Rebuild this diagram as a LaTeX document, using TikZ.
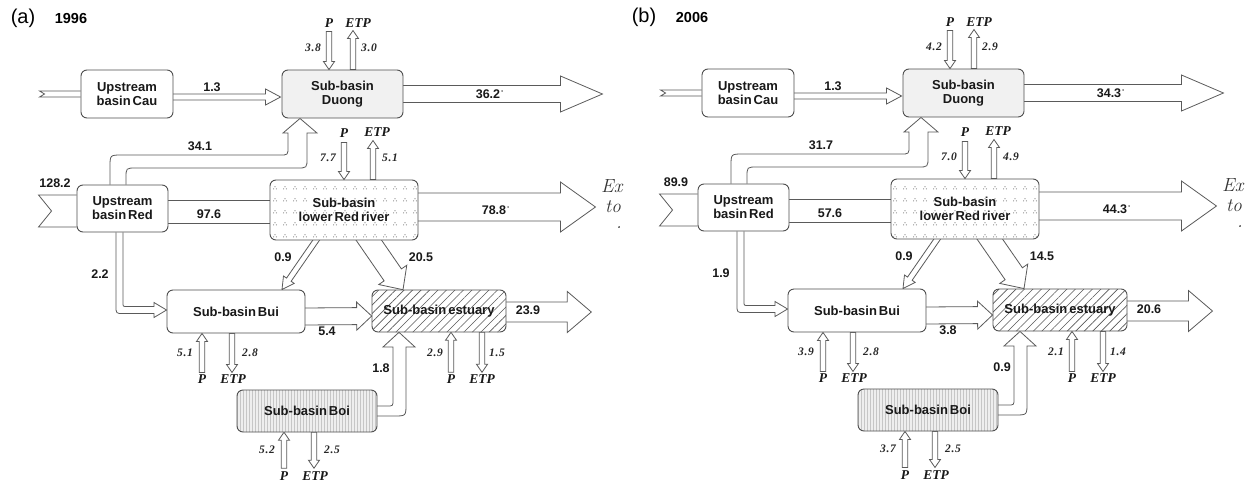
\documentclass[tikz,border=0pt]{standalone}
\usepackage{fontspec}
\newfontfamily\arialf{Liberation Sans}
\newfontfamily\timesf{Liberation Serif}
\newfontfamily\timesvf[LetterSpace=6]{Liberation Serif}
\usetikzlibrary{calc,patterns,patterns.meta}
\definecolor{boxgray}{HTML}{4E4E4E}
\definecolor{arrgray}{HTML}{5A5A5A}
\definecolor{duongfill}{HTML}{F1F1F1}
\definecolor{boifill}{HTML}{EEEEEE}
\pgfdeclarelayer{paper}
\pgfdeclarelayer{bg}
\pgfsetlayers{paper,bg,main}
\pgfdeclarepatternformonly{tridots}{\pgfpoint{-1pt}{-1pt}}{\pgfpoint{11pt}{13pt}}{\pgfpoint{10pt}{12pt}}{%
  \pgfpathcircle{\pgfpoint{5pt}{7.2pt}}{0.6pt}%
  \pgfpathcircle{\pgfpoint{3.6pt}{5.1pt}}{0.6pt}%
  \pgfpathcircle{\pgfpoint{6.4pt}{5.1pt}}{0.6pt}%
  \pgfusepath{fill}}
\newcommand\boxfont{\arialf\bfseries\fontsize{13}{14}\selectfont\spaceskip=2pt plus 1pt\relax}
\newcommand\tickmark{\rlap{\raisebox{3pt}{\fontsize{7}{7}\selectfont\,'}}}
\tikzset{
  basinbox/.style={draw=boxgray, line width=0.9pt, rounded corners=6pt, align=center,
    inner sep=0pt, font=\boxfont, text=black!90},
  arrowline/.style={draw=arrgray, fill=white, line width=0.8pt},
  numlab/.style={font=\arialf\bfseries\fontsize{12.5}{13}\selectfont, inner sep=0pt, text=black!90},
  pelab/.style={font=\timesf\bfseries\itshape\fontsize{13.5}{14}\selectfont, inner sep=0pt, text=black!90},
  vallab/.style={font=\timesvf\bfseries\itshape\fontsize{11.5}{12}\selectfont, inner sep=0pt, text=black!85},
  cutlab/.style={font=\rmfamily\itshape\fontsize{19}{19}\selectfont, inner sep=0pt, text=black!80}
}
% open-tailed hollow arrow: #1 tail, #2 tip, #3 half shaft, #4 half head, #5 head length
\newcommand\fatarrow[5]{%
  \coordinate (fah) at ($(#2)!#5!(#1)$);
  \filldraw[arrowline] ($(#1)!#3!90:(#2)$) -- ($(fah)!#3!-90:(#1)$) -- ($(fah)!#4!-90:(#1)$)
    -- (#2) -- ($(fah)!#4!90:(#1)$) -- ($(fah)!#3!90:(#1)$) -- ($(#1)!#3!-90:(#2)$);}
\newcommand\fatarrowc[5]{%
  \coordinate (fah) at ($(#2)!#5!(#1)$);
  \filldraw[arrowline] ($(#1)!#3!90:(#2)$) -- ($(fah)!#3!-90:(#1)$) -- ($(fah)!#4!-90:(#1)$)
    -- (#2) -- ($(fah)!#4!90:(#1)$) -- ($(fah)!#3!90:(#1)$) -- ($(#1)!#3!-90:(#2)$) -- cycle;}
\newcommand\panelbody{%
  % title
  \node[font=\arialf\fontsize{20}{20}\selectfont, inner sep=0pt] (ttl) at (23,18) {(\qqL)};
  \node[font=\arialf\bfseries\fontsize{14.5}{15}\selectfont, inner sep=0pt] (yr) at (71,19) {\qqY};
  % boxes
  \node[basinbox, fill=duongfill, minimum width=121, minimum height=48] (duong) at (342.5,94) {Sub-basin\\Duong};
  \node[basinbox, fill=white, minimum width=92, minimum height=48] (cau) at (127,94) {Upstream\\basin Cau};
  \node[basinbox, fill=white, minimum width=91, minimum height=47] (red) at (122.5,208.5) {Upstream\\basin Red};
  \node[basinbox, preaction={fill=white}, pattern=tridots, pattern color=black!50,
        minimum width=148, minimum height=60] (lower) at (344,210) {Sub-basin\\lower Red river};
  \node[basinbox, fill=white, minimum width=138, minimum height=43] (bui) at (236,311.5) {Sub-basin Bui};
  \node[basinbox, preaction={fill=white}, pattern={Lines[angle=45,distance=6pt,line width=0.6pt]},
        pattern color=black!65, minimum width=134, minimum height=42] (est) at (439,311) {Sub-basin estuary};
  \node[basinbox, preaction={fill=boifill}, pattern={Lines[angle=90,distance=3pt,line width=0.45pt]},
        pattern color=gray!45, minimum width=140, minimum height=42] (boi) at (307,411) {Sub-basin Boi};
  \begin{pgfonlayer}{bg}
    % Cau inflow
    \coordinate (cauin) at ($(cau.west)+(-41,0)$);
    \filldraw[arrowline] ($(cau.west)+(0,-3)$) -- ($(cauin)+(0,-3)$) -- ($(cauin)+(5,0)$)
      -- ($(cauin)+(0,3)$) -- ($(cau.west)+(0,3)$);
    % Cau -> Duong
    \coordinate (c2dt) at ($(cau.east)+(-2,3)$);
    \coordinate (c2dh) at ($(duong.west)+(-1,3)$);
    \fatarrow{c2dt}{c2dh}{3pt}{8pt}{15pt}
    % Duong outflow
    \coordinate (dot) at ($(duong.east)+(-2,0)$);
    \coordinate (doh) at ($(duong.east)+(199,0)$);
    \fatarrow{dot}{doh}{8.5pt}{18pt}{42pt}
    % Duong P / ETP
    \coordinate (dPh) at ($(duong.north)+(-13.5,0)$);
    \coordinate (dPt) at ($(dPh)+(0,-38)$);
    \fatarrowc{dPt}{dPh}{2.8pt}{5.5pt}{8pt}
    \coordinate (dEt) at ($(duong.north)+(10.5,0)$);
    \coordinate (dEh) at ($(dEt)+(0,-39)$);
    \fatarrowc{dEt}{dEh}{2.8pt}{5.5pt}{8pt}
    % Red inflow
    \coordinate (rin) at ($(red.west)+(-38,2.5)$);
    \filldraw[arrowline] ($(red.west)+(0,-13.5)$) -- ($(rin)+(0,-16)$) -- ($(rin)+(13,0)$)
      -- ($(rin)+(0,16)$) -- ($(red.west)+(0,18.5)$);
    % Red -> lower Red river
    \draw[arrowline] ($(red.east)+(0,-8.5)$) -- ($(lower.west)+(0,-10)$);
    \draw[arrowline] ($(red.east)+(0,14.5)$) -- ($(lower.west)+(0,13)$);
    % Red -> Duong
    \coordinate (r2d1) at ($(red.north)+(-12.5,0)$);
    \coordinate (r2d2) at ($(red.north)+(3.5,0)$);
    \coordinate (r2dh) at ($(duong.south)+(-42.5,0)$);
    \filldraw[arrowline] (r2d1) -- (110,167) .. controls (110,155) .. (122,155) -- (280,155)
      .. controls (288,155) .. (288,147) -- (288,133) -- (283,133) -- (r2dh) -- (317,133)
      -- (307,133) -- (307,158) .. controls (307,168) .. (297,168) -- (136,168)
      .. controls (126,168) .. (126,178) -- (r2d2);
    % Red -> Bui
    \coordinate (r2b1) at ($(red.south)+(-6.5,0)$);
    \coordinate (r2b2) at ($(red.south)+(0.5,0)$);
    \coordinate (r2bh) at ($(bui.west)+(0,-1.5)$);
    \filldraw[arrowline] (r2b1) -- (116,306) .. controls (116,313.5) .. (123,313.5) -- (154,313.5)
      -- (154,317.5) -- (r2bh) -- (154,302.5) -- (154,306.5) -- (127,306.5)
      .. controls (123,306.5) .. (123,302.5) -- (r2b2);
    % lower -> Bui
    \coordinate (l2bt) at ($(lower.south)+(-22.5,-8)$);
    \coordinate (l2bh) at ($(bui.north)+(46,0)$);
    \fatarrow{l2bt}{l2bh}{2.8pt}{6.5pt}{12pt}
    % lower -> estuary
    \coordinate (l2et) at ($(lower.south)+(19.5,-8)$);
    \coordinate (l2eh) at ($(est.north)+(-36,0)$);
    \fatarrow{l2et}{l2eh}{10.5pt}{17pt}{18pt}
    % lower outflow
    \coordinate (lot) at ($(lower.east)+(-2,-3)$);
    \coordinate (loh) at ($(lower.east)+(177,-3)$);
    \fatarrow{lot}{loh}{14pt}{25pt}{35pt}
    % lower P / ETP
    \coordinate (lPh) at (lower.north);
    \coordinate (lPt) at ($(lPh)+(0,-37)$);
    \fatarrowc{lPt}{lPh}{2.8pt}{5.5pt}{8pt}
    \coordinate (lEt) at ($(lower.north)+(29,0)$);
    \coordinate (lEh) at ($(lEt)+(0,-39)$);
    \fatarrowc{lEt}{lEh}{2.8pt}{5.5pt}{8pt}
    % Bui -> estuary
    \coordinate (b2et) at ($(bui.east)+(-2,5)$);
    \coordinate (b2eh) at ($(est.west)+(0,5)$);
    \fatarrow{b2et}{b2eh}{8.5pt}{14pt}{15pt}
    % estuary outflow
    \coordinate (eot) at ($(est.east)+(-2,1)$);
    \coordinate (eoh) at ($(est.east)+(85,1)$);
    \fatarrow{eot}{eoh}{10pt}{20.5pt}{24pt}
    % estuary P / ETP
    \coordinate (ePh) at ($(est.south)+(12,0)$);
    \coordinate (ePt) at ($(ePh)+(0,40)$);
    \fatarrowc{ePt}{ePh}{2.8pt}{5.5pt}{8pt}
    \coordinate (eEt) at ($(est.south)+(43,0)$);
    \coordinate (eEh) at ($(eEt)+(0,40)$);
    \fatarrowc{eEt}{eEh}{2.8pt}{5.5pt}{8pt}
    % Bui P / ETP
    \coordinate (bPh) at ($(bui.south)+(-34,0)$);
    \coordinate (bPt) at ($(bPh)+(0,39)$);
    \fatarrowc{bPt}{bPh}{2.8pt}{5.5pt}{8pt}
    \coordinate (bEt) at ($(bui.south)+(-4,0)$);
    \coordinate (bEh) at ($(bEt)+(0,39)$);
    \fatarrowc{bEt}{bEh}{2.8pt}{5.5pt}{8pt}
    % Boi -> estuary
    \coordinate (o2e1) at ($(boi.east)+(-1,-5)$);
    \coordinate (o2e2) at ($(boi.east)+(-1,5)$);
    \coordinate (o2eh) at ($(est.south)+(-40,0)$);
    \filldraw[arrowline] (o2e1) -- (387,406) .. controls (393,406) .. (393,400) -- (393,347)
      -- (383,347) -- (o2eh) -- (415,347) -- (406,347) -- (406,404)
      .. controls (406,416) .. (394,416) -- (o2e2);
    % Boi P / ETP
    \coordinate (oPh) at ($(boi.south)+(-23,0)$);
    \coordinate (oPt) at ($(oPh)+(0,36)$);
    \fatarrowc{oPt}{oPh}{2.8pt}{5.5pt}{8pt}
    \coordinate (oEt) at ($(boi.south)+(7,0)$);
    \coordinate (oEh) at ($(oEt)+(0,36)$);
    \fatarrowc{oEt}{oEh}{2.8pt}{5.5pt}{8pt}
  \end{pgfonlayer}
  % flow labels
  \node[numlab] (n1) at (212,87) {\qqCau};
  \node[numlab] (n2) at (488,94) {\qqDout\tickmark};
  \node[numlab] (n3) at (200,146) {\qqRD};
  \node[numlab] (n4) at (55,183) {\qqRin};
  \node[numlab] (n5) at (209,214) {\qqRL};
  \node[numlab] (n6) at (494,210) {\qqLout\tickmark};
  \node[numlab] (n7) at (283,257) {\qqLB};
  \node[numlab] (n8) at (421,257) {\qqLEs};
  \node[numlab] (n9) at (100,274) {\qqRB};
  \node[numlab] (n10) at (327,331) {\qqBE};
  \node[numlab] (n11) at (528,310) {\qqEout};
  \node[numlab] (n12) at (381,368) {\qqOE};
  % P / ETP labels
  \node[pelab] (p1) at (329,23) {P};
  \node[pelab] (e1) at (358,23) {ETP};
  \node[vallab] (pv1) at (313,48) {\qqDP};
  \node[vallab] (ev1) at (369,48) {\qqDE};
  \node[pelab] (p2) at (344,133) {P};
  \node[pelab] (e2) at (377,132) {ETP};
  \node[vallab] (pv2) at (328,158) {\qqLP};
  \node[vallab] (ev2) at (390,158) {\qqLE};
  \node[pelab] (p3) at (202,379) {P};
  \node[pelab] (e3) at (233,379) {ETP};
  \node[vallab] (pv3) at (185,353) {\qqBP};
  \node[vallab] (ev3) at (250,353) {\qqBEt};
  \node[pelab] (p4) at (451,379) {P};
  \node[pelab] (e4) at (482,379) {ETP};
  \node[vallab] (pv4) at (435,353) {\qqEP};
  \node[vallab] (ev4) at (497,353) {\qqEE};
  \node[pelab] (p5) at (284,476) {P};
  \node[pelab] (e5) at (315,476) {ETP};
  \node[vallab] (pv5) at (267,450) {\qqOP};
  \node[vallab] (ev5) at (332,450) {\qqOEt};
  % cut-off text at the right edge
  \begin{scope}
    \clip (560,160) rectangle (626.5,245);
    \node[cutlab, anchor=base west] (ex1) at (601,192) {Ex};
    \node[cutlab, anchor=base west] (ex2) at (605,212) {to};
    \node[cutlab] (ex3) at (619,228) {.};
  \end{scope}
}
\begin{document}
\begin{tikzpicture}[x=1pt,y=-1pt]
  \begin{pgfonlayer}{paper}
    \fill[white] (0,0) rectangle (1247,482);
  \end{pgfonlayer}
  \useasboundingbox (0,0) rectangle (1247,482);
  \begin{scope}[name prefix=a-]
    \def\qqL{a}\def\qqY{1996}
    \def\qqDP{3.8}\def\qqDE{3.0}\def\qqCau{1.3}\def\qqDout{36.2}\def\qqRD{34.1}
    \def\qqRin{128.2}\def\qqRL{97.6}\def\qqLP{7.7}\def\qqLE{5.1}\def\qqLout{78.8}
    \def\qqLB{0.9}\def\qqLEs{20.5}\def\qqRB{2.2}\def\qqBE{5.4}\def\qqEout{23.9}
    \def\qqEP{2.9}\def\qqEE{1.5}\def\qqBP{5.1}\def\qqBEt{2.8}\def\qqOE{1.8}
    \def\qqOP{5.2}\def\qqOEt{2.5}
    \panelbody
  \end{scope}
  \begin{scope}[name prefix=b-, xshift=621, yshift=1]
    \def\qqL{b}\def\qqY{2006}
    \def\qqDP{4.2}\def\qqDE{2.9}\def\qqCau{1.3}\def\qqDout{34.3}\def\qqRD{31.7}
    \def\qqRin{89.9}\def\qqRL{57.6}\def\qqLP{7.0}\def\qqLE{4.9}\def\qqLout{44.3}
    \def\qqLB{0.9}\def\qqLEs{14.5}\def\qqRB{1.9}\def\qqBE{3.8}\def\qqEout{20.6}
    \def\qqEP{2.1}\def\qqEE{1.4}\def\qqBP{3.9}\def\qqBEt{2.8}\def\qqOE{0.9}
    \def\qqOP{3.7}\def\qqOEt{2.5}
    \panelbody
  \end{scope}
\end{tikzpicture}
\end{document}
